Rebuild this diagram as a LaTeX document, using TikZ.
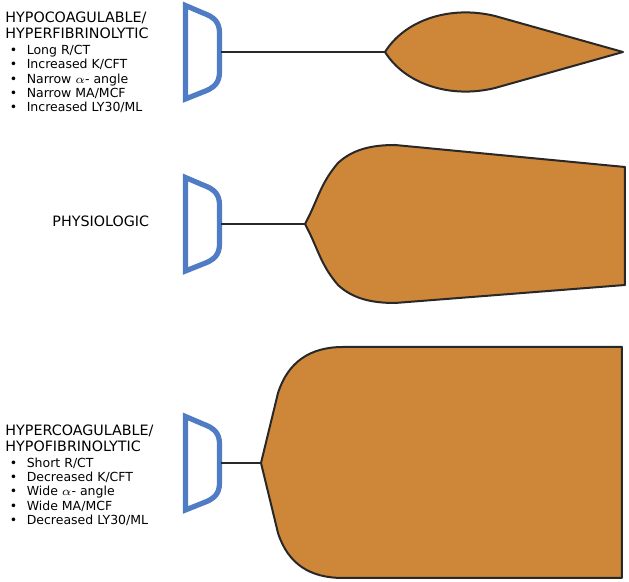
\documentclass[tikz,border=0pt]{standalone}
\usepackage{fontspec}
\setmainfont{DejaVu Sans}
\usetikzlibrary{positioning}
\definecolor{cupblue}{RGB}{79,124,196}
\definecolor{clotorange}{RGB}{206,134,56}
\definecolor{edgegray}{RGB}{40,40,40}
\newcommand{\blt}[1]{\makebox[8.4pt][l]{\textbullet}#1}

\begin{document}
\begin{tikzpicture}[x=0.5pt,y=-0.5pt,
    head/.style={anchor=north west, inner sep=0pt, align=left, font=\fontsize{7.15}{8}\selectfont},
    list/.style={inner sep=0pt, align=left, font=\fontsize{6.25}{7.1}\selectfont},
    cupline/.style={draw=cupblue, line width=2.6pt},
    clot/.style={draw=edgegray, fill=clotorange, line width=1pt, line join=round},
    stem/.style={draw=edgegray, line width=0.8pt}]
\useasboundingbox (0,0) rectangle (629,582);

% cups
\foreach \cy/\n in {52/hypo,224/phys,463/hyper} {
    \draw[cupline] (185.5,\cy-46.5) -- (203,\cy-39)
        .. controls (214,\cy-35) and (219.5,\cy-30) .. (219.5,\cy-19) -- (219.5,\cy+20)
        .. controls (219.5,\cy+31) and (214,\cy+36) .. (203,\cy+40) -- (185.5,\cy+47) -- cycle;
    \coordinate (\n-cup) at (221.5,\cy);
}

% clot shapes
\coordinate (hypo-tip) at (385,52);
\draw[clot] (hypo-tip) .. controls (405,20) and (450,5) .. (495,16) -- (623,52)
    -- (495,88) .. controls (450,99) and (405,84) .. (hypo-tip) -- cycle;

\coordinate (phys-tip) at (305,224);
\draw[clot] (phys-tip) .. controls (318,200) and (320,184) .. (338,163)
    .. controls (352,150) and (370,145) .. (395,145) -- (625,167) -- (625,285) -- (395,303)
    .. controls (370,303) and (352,298) .. (338,285) .. controls (320,264) and (318,248) .. (phys-tip) -- cycle;

\coordinate (hyper-tip) at (261,463);
\draw[clot] (hyper-tip) -- (278,393) .. controls (288,362) and (310,347) .. (343,347) -- (622,347)
    -- (622,578) -- (343,578) .. controls (310,578) and (288,564) .. (278,533) -- cycle;

% stems
\draw[stem] (hypo-cup) -- (hypo-tip);
\draw[stem] (phys-cup) -- (phys-tip);
\draw[stem] (hyper-cup) -- (hyper-tip);

% labels
\node[head] (hypo-head) at (5,11) {HYPOCOAGULABLE/\\HYPERFIBRINOLYTIC};
\node[list, below right=3.2pt and 2.3pt of hypo-head.south west] (hypo-list)
    {\blt{Long R/CT}\\\blt{Increased K/CFT}\\\blt{Narrow $\alpha$- angle}\\\blt{Narrow MA/MCF}\\\blt{Increased LY30/ML}};

\node[head, anchor=base west] (phys-head) at (52,227) {PHYSIOLOGIC};

\node[head] (hyper-head) at (5,424) {HYPERCOAGULABLE/\\HYPOFIBRINOLYTIC};
\node[list, below right=3pt and 2.3pt of hyper-head.south west] (hyper-list)
    {\blt{Short R/CT}\\\blt{Decreased K/CFT}\\\blt{Wide $\alpha$- angle}\\\blt{Wide MA/MCF}\\\blt{Decreased LY30/ML}};
\end{tikzpicture}
\end{document}
